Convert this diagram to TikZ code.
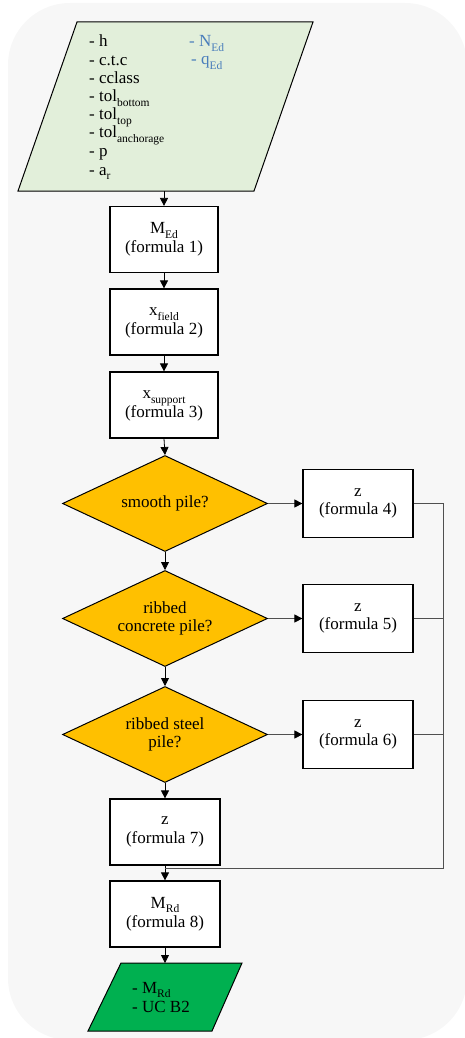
\documentclass[tikz,border=0pt]{standalone}
\usepackage{fontspec}
\setmainfont{Liberation Serif}
\usetikzlibrary{shapes.geometric,arrows.meta}
\definecolor{bgc}{HTML}{F7F7F7}
\definecolor{inc}{HTML}{E2EFDA}
\definecolor{outc}{HTML}{00B050}
\definecolor{decc}{HTML}{FFC000}
\definecolor{bluec}{HTML}{4A7EBB}
\definecolor{railc}{HTML}{505050}
\newcommand\mysub[1]{\raisebox{-0.25em}[0.6em][0pt]{\fontsize{11.5}{11.5}\selectfont #1}}
\begin{document}
\begin{tikzpicture}[x=1pt,y=-1pt,
 every node/.style={font=\fontsize{17}{18.7}\selectfont},
 procbox/.style={draw=black,line width=1.2pt,fill=white,minimum width=108pt,minimum height=66pt,align=center,inner sep=0pt},
 zbox/.style={procbox,minimum width=110pt,minimum height=68pt},
 decbox/.style={diamond,draw=black,line width=1pt,fill=decc,minimum width=205pt,minimum height=96pt,aspect=2.13,align=center,inner sep=0pt},
 flow/.style={draw=black,line width=0.8pt,-{Triangle[length=8pt,width=8pt]}},
 sideflow/.style={draw=railc,line width=0.8pt,-{Triangle[length=8pt,width=8pt,color=black]}},
 rail/.style={draw=railc,line width=0.8pt},
 txt/.style={anchor=base west,inner sep=0pt}
]
\useasboundingbox (0,0) rectangle (465,1038);
\fill[bgc, rounded corners=62pt] (8,3) rectangle (467,1040);

% input
\draw[fill=inc, line width=1pt] (77,22) -- (313,22) -- (254,191) -- (18,191) -- cycle;
\node[txt] (i1) at (89,47) {- h};
\node[txt] (i2) at (89,65.5) {- c.t.c};
\node[txt] (i3) at (89,84) {- cclass};
\node[txt] (i4) at (89,102) {- tol\mysub{bottom}};
\node[txt] (i5) at (89,120) {- tol\mysub{top}};
\node[txt] (i6) at (89,138) {- tol\mysub{anchorage}};
\node[txt] (i7) at (89,156.5) {- p};
\node[txt] (i8) at (89,175) {- a\mysub{r}};
\node[txt,text=bluec] (b1) at (189,47) {- N\mysub{Ed}};
\node[txt,text=bluec] (b2) at (191,65) {- q\mysub{Ed}};
\coordinate (inb) at (164,191);

% process
\node[procbox] (m1) at (164,239.5) {M\mysub{Ed}\\(formula 1)};
\node[procbox] (x1) at (164,322) {x\mysub{field}\\(formula 2)};
\node[procbox] (x2) at (164,405) {x\mysub{support}\\(formula 3)};
\node[decbox] (d1) at (165,503.5) {smooth pile?};
\node[decbox] (d2) at (165,618.5) {ribbed\\concrete pile?};
\node[decbox] (d3) at (165,734.5) {ribbed steel\\pile?};
\node[zbox] (z4) at (358,503.5) {z\\(formula 4)};
\node[zbox] (z5) at (358,618.5) {z\\(formula 5)};
\node[zbox] (z6) at (358,734.5) {z\\(formula 6)};
\node[procbox,minimum width=110pt] (z7) at (165,832) {z\\(formula 7)};
\node[procbox,minimum width=110pt] (mr) at (165,914) {M\mysub{Rd}\\(formula 8)};

% output
\draw[fill=outc, line width=1pt] (121,963) -- (242,963) -- (212,1031) -- (88,1031) -- cycle;
\node[txt] (o1) at (132,993) {- M\mysub{Rd}};
\node[txt] (o2) at (132,1012) {- UC B2};
\coordinate (outt) at (165,963);

% connectors
\draw[flow] (inb) -- (m1.north);
\draw[flow] (m1) -- (x1);
\draw[flow] (x1) -- (x2);
\draw[flow] (x2.south) -- (d1.north);
\draw[flow] (d1.south) -- (d2.north);
\draw[flow] (d2.south) -- (d3.north);
\draw[flow] (d3.south) -- (z7.north);
\draw[flow] (z7.south) -- (mr.north);
\draw[flow] (mr.south) -- (outt);
\draw[sideflow] (d1.east) -- (z4.west);
\draw[sideflow] (d2.east) -- (z5.west);
\draw[sideflow] (d3.east) -- (z6.west);

\coordinate (railb) at (443,868);
\coordinate (join) at (165,868);
\draw[rail] (z4.east) -| (railb) -- (join);
\draw[rail] (z5.east) -- (z5.east -| railb);
\draw[rail] (z6.east) -- (z6.east -| railb);
\end{tikzpicture}
\end{document}
